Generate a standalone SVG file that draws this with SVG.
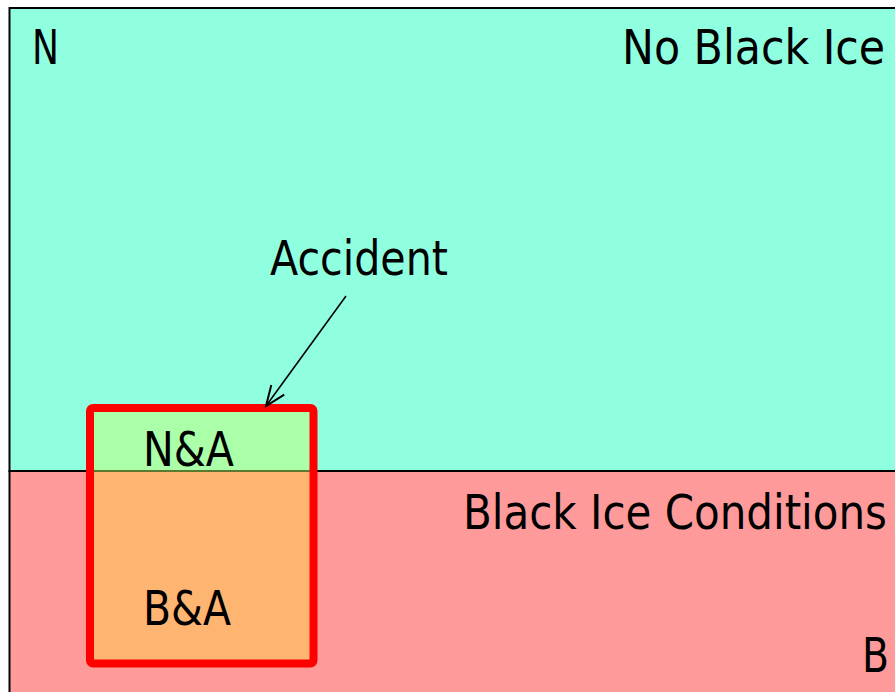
<svg xmlns="http://www.w3.org/2000/svg" width="895" height="692" viewBox="0 0 895 692">
<style>
text{font-family:"DejaVu Sans","Liberation Sans",sans-serif;font-size:48px;fill:#000}
</style>
<defs>
<marker id="arr" markerWidth="24" markerHeight="24" refX="0" refY="0" viewBox="-22 -11 24 22" orient="auto" markerUnits="userSpaceOnUse">
<path d="M-20,-8 L0,0 L-20,8" fill="none" stroke="#000" stroke-width="2"/>
</marker>
</defs>
<g id="no-black-ice">
<rect x="9.5" y="8" width="900" height="463" fill="#90FFE0" stroke="#000" stroke-width="2"/>
<text x="32" y="64" textLength="27" lengthAdjust="spacingAndGlyphs">N</text>
<text x="622" y="64" textLength="263" lengthAdjust="spacingAndGlyphs">No Black Ice</text>
</g>
<g id="black-ice">
<rect x="9.5" y="471" width="900" height="240" fill="#FF9A9A" stroke="#000" stroke-width="2"/>
<text x="463" y="529" textLength="424" lengthAdjust="spacingAndGlyphs">Black Ice Conditions</text>
<text x="862" y="672" textLength="27" lengthAdjust="spacingAndGlyphs">B</text>
</g>
<g id="accident">
<rect x="90" y="408" width="223.5" height="63" fill="#AAFFA8"/>
<rect x="90" y="471" width="223.5" height="192.5" fill="#FFB572"/>
<line x1="90" y1="471" x2="313.5" y2="471" stroke="#5A7A30" stroke-width="2"/>
<rect x="90" y="408" width="223.5" height="255.5" rx="3" fill="none" stroke="#FF0000" stroke-width="8"/>
<text x="143" y="466" textLength="91" lengthAdjust="spacingAndGlyphs">N&amp;A</text>
<text x="143" y="625" textLength="88" lengthAdjust="spacingAndGlyphs">B&amp;A</text>
</g>
<g id="label-accident">
<text x="270" y="275" textLength="178" lengthAdjust="spacingAndGlyphs">Accident</text>
</g>
<g id="connectors">
<line x1="346" y1="296" x2="266" y2="406" stroke="#000" stroke-width="1.6" marker-end="url(#arr)"/>
</g>
</svg>
